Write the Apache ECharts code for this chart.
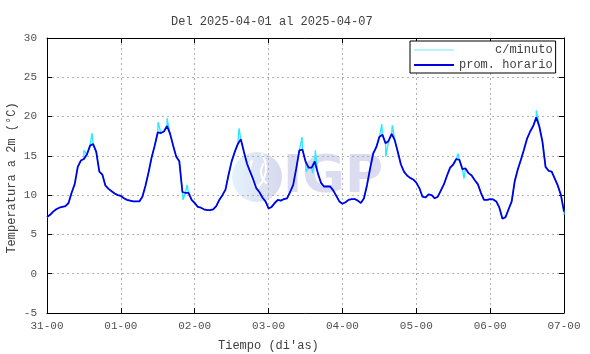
<!DOCTYPE html>
<html>
<head>
<meta charset="utf-8">
<script src="https://cdn.jsdelivr.net/npm/echarts@6/dist/echarts.min.js"></script>
<style>
  html, body { margin: 0; padding: 0; background: #fff; }
  #chart { width: 590px; height: 354px; }
</style>
</head>
<body>
<div id="chart"></div>
<script>
// etiquetas del eje x (una por dia, cada 24 h)
var xLabels = ['31-00', '01-00', '02-00', '03-00', '04-00', '05-00', '06-00', '07-00']

// promedio horario, hora 0 .. 168
var promHorario = [
  7.2, 7.5, 7.9, 8.2, 8.4, 8.5, 8.6, 9.0, 10.3, 11.4, 13.6, 14.4, 14.6, 15.2, 16.3, 16.5, 15.5, 13.0, 12.6, 11.2, 10.8, 10.5, 10.2, 10.0,
  9.9, 9.6, 9.4, 9.3, 9.2, 9.2, 9.2, 9.8, 11.2, 12.9, 14.8, 16.3, 18.0, 17.9, 18.1, 18.8, 17.8, 16.3, 14.9, 14.3, 10.4, 10.3, 10.3, 9.4,
  9.0, 8.5, 8.4, 8.2, 8.1, 8.1, 8.2, 8.6, 9.4, 10.0, 10.7, 12.6, 14.3, 15.5, 16.5, 17.1, 15.5, 14.0, 13.0, 12.0, 10.9, 10.4, 9.7, 9.2,
  8.3, 8.5, 9.0, 9.4, 9.3, 9.5, 9.6, 10.4, 11.3, 13.4, 15.7, 15.8, 14.3, 13.5, 13.5, 14.3, 12.8, 11.6, 11.1, 11.1, 11.1, 10.6, 9.9, 9.2,
  8.9, 9.1, 9.4, 9.5, 9.5, 9.3, 9.0, 9.6, 11.3, 13.4, 15.3, 16.1, 17.4, 17.7, 16.6, 16.9, 17.8, 17.0, 15.5, 13.9, 13.0, 12.5, 12.2, 12.0,
  11.6, 10.9, 9.8, 9.7, 10.1, 10.0, 9.6, 9.8, 10.6, 11.4, 12.5, 13.5, 13.9, 14.6, 14.5, 13.3, 13.4, 12.8, 12.5, 11.9, 11.4, 10.3, 9.4, 9.4,
  9.5, 9.45, 9.2, 8.4, 7.0, 7.2, 8.2, 9.2, 11.8, 13.3, 14.5, 15.8, 17.2, 18.1, 18.8, 19.9, 18.7, 16.8, 13.6, 13.1, 13.0, 12.1, 11.2, 10.0,
  7.9
]

// picos de la serie por minuto que sobresalen del promedio [hora, valor]
var picosMinuto = [
  [12.0, 15.7], [14.6, 17.9],
  [36.1, 19.3], [39.0, 19.8], [44.2, 9.4], [45.5, 11.3],
  [62.4, 18.5],
  [82.9, 17.4], [84.2, 13.0], [86.3, 12.8], [87.2, 15.7],
  [108.8, 19.05], [110.1, 14.9], [112.2, 18.9],
  [133.6, 15.3], [135.5, 12.1],
  [159.0, 20.8], [168.0, 7.5]
]

var horario = promHorario.map(function (v, i) { return [i, v] })
var minuto = horario.concat(picosMinuto).sort(function (a, b) { return a[0] - b[0] })

var mono = 'Liberation Mono'
var charts = echarts.init(document.getElementById('chart'))
var dotted = { color: '#b0b0b0', type: [2, 3], width: 1 }
var frame = { show: true, onZero: false, lineStyle: { color: '#000', width: 1 } }
var tick = { show: true, inside: true, length: 5, lineStyle: { color: '#000' } }

var options = {
  animation: false,
  backgroundColor: '#fff',
  title: {
    text: 'Del 2025-04-01 al 2025-04-07',
    left: 166,
    top: 11,
    textStyle: { fontFamily: mono, fontSize: 12, fontWeight: 'normal', color: '#404040' }
  },
  legend: {
    orient: 'vertical',
    left: 410,
    top: 41,
    padding: [3, 3, 2, 4],
    itemGap: 3,
    itemWidth: 40,
    itemHeight: 2,
    borderColor: '#000',
    borderWidth: 1,
    borderRadius: 0,
    backgroundColor: '#fff',
    data: [
      { name: 'c/minuto', icon: 'rect', itemStyle: { color: '#b8f4ff' } },
      { name: 'prom. horario', icon: 'rect', itemStyle: { color: '#0000e0' } }
    ],
    formatter: function (name) { return name.padStart(13, ' ') },
    textStyle: { fontFamily: mono, fontSize: 12, color: '#404040', whiteSpace: 'pre' }
  },
  grid: { left: 47, right: 26, top: 38, bottom: 41 },
  xAxis: [{
    type: 'value',
    min: 0,
    max: 168,
    interval: 24,
    position: 'bottom',
    axisLine: frame,
    axisTick: tick,
    axisLabel: {
      margin: 8,
      fontFamily: mono,
      fontSize: 11,
      color: '#505050',
      formatter: function (v) { return xLabels[Math.round(v / 24)] }
    },
    splitLine: { show: true, lineStyle: dotted }
  }, {
    type: 'value',
    min: 0,
    max: 168,
    interval: 24,
    position: 'top',
    axisLine: frame,
    axisTick: tick,
    axisLabel: { show: false },
    splitLine: { show: false }
  }],
  yAxis: [{
    type: 'value',
    min: -5,
    max: 30,
    interval: 5,
    position: 'left',
    axisLine: frame,
    axisTick: tick,
    axisLabel: { margin: 10, fontFamily: mono, fontSize: 11, color: '#505050' },
    splitLine: { show: true, lineStyle: dotted }
  }, {
    type: 'value',
    min: -5,
    max: 30,
    interval: 5,
    position: 'right',
    axisLine: frame,
    axisTick: tick,
    axisLabel: { show: false },
    splitLine: { show: false }
  }],
  graphic: [
    // marca de agua IGP
    {
      type: 'circle', z: 0, silent: true,
      shape: { cx: 257, cy: 177, r: 25 },
      style: {
        fill: new echarts.graphic.LinearGradient(0, 0, 1, 0, [
          { offset: 0, color: '#e4f3fc' }, { offset: 1, color: '#d8d8f0' }
        ])
      }
    },
    { type: 'arc', z: 0, silent: true, shape: { cx: 272, cy: 170, r: 22, startAngle: 2.2, endAngle: 3.6 }, style: { stroke: '#fff', lineWidth: 2, fill: null } },
    { type: 'arc', z: 0, silent: true, shape: { cx: 275, cy: 172, r: 14, startAngle: 2.2, endAngle: 3.8 }, style: { stroke: '#fff', lineWidth: 2, fill: null } },
    { type: 'arc', z: 0, silent: true, shape: { cx: 240, cy: 168, r: 26, startAngle: -0.6, endAngle: 0.9 }, style: { stroke: '#fff', lineWidth: 2, fill: null } },
    {
      type: 'text', z: 0, silent: true, left: 283, top: 152,
      style: { text: 'IGP', fontFamily: 'DejaVu Sans', fontWeight: 'bold', fontSize: 52, fill: '#dcdcf1' }
    },
    {
      type: 'text', left: 218, top: 340,
      style: { text: "Tiempo (di'as)", fontFamily: mono, fontSize: 12, fill: '#404040' }
    },
    {
      type: 'text', x: 12, y: 178, rotation: Math.PI / 2,
      style: { text: 'Temperatura a 2m (°C)', fontFamily: mono, fontSize: 12, fill: '#404040', align: 'center', verticalAlign: 'middle' }
    }
  ],
  series: [{
    name: 'c/minuto',
    type: 'line',
    data: minuto,
    showSymbol: false,
    lineStyle: { color: '#2ae8ff', width: 1.3 },
    itemStyle: { color: '#2ae8ff' }
  }, {
    name: 'prom. horario',
    type: 'line',
    data: horario,
    showSymbol: false,
    lineStyle: { color: '#0000e8', width: 1.8 },
    itemStyle: { color: '#0000e8' }
  }]
}

charts.setOption(options)
window.addEventListener('resize', function () {
  charts.resize()
})
</script>
</body>
</html>
